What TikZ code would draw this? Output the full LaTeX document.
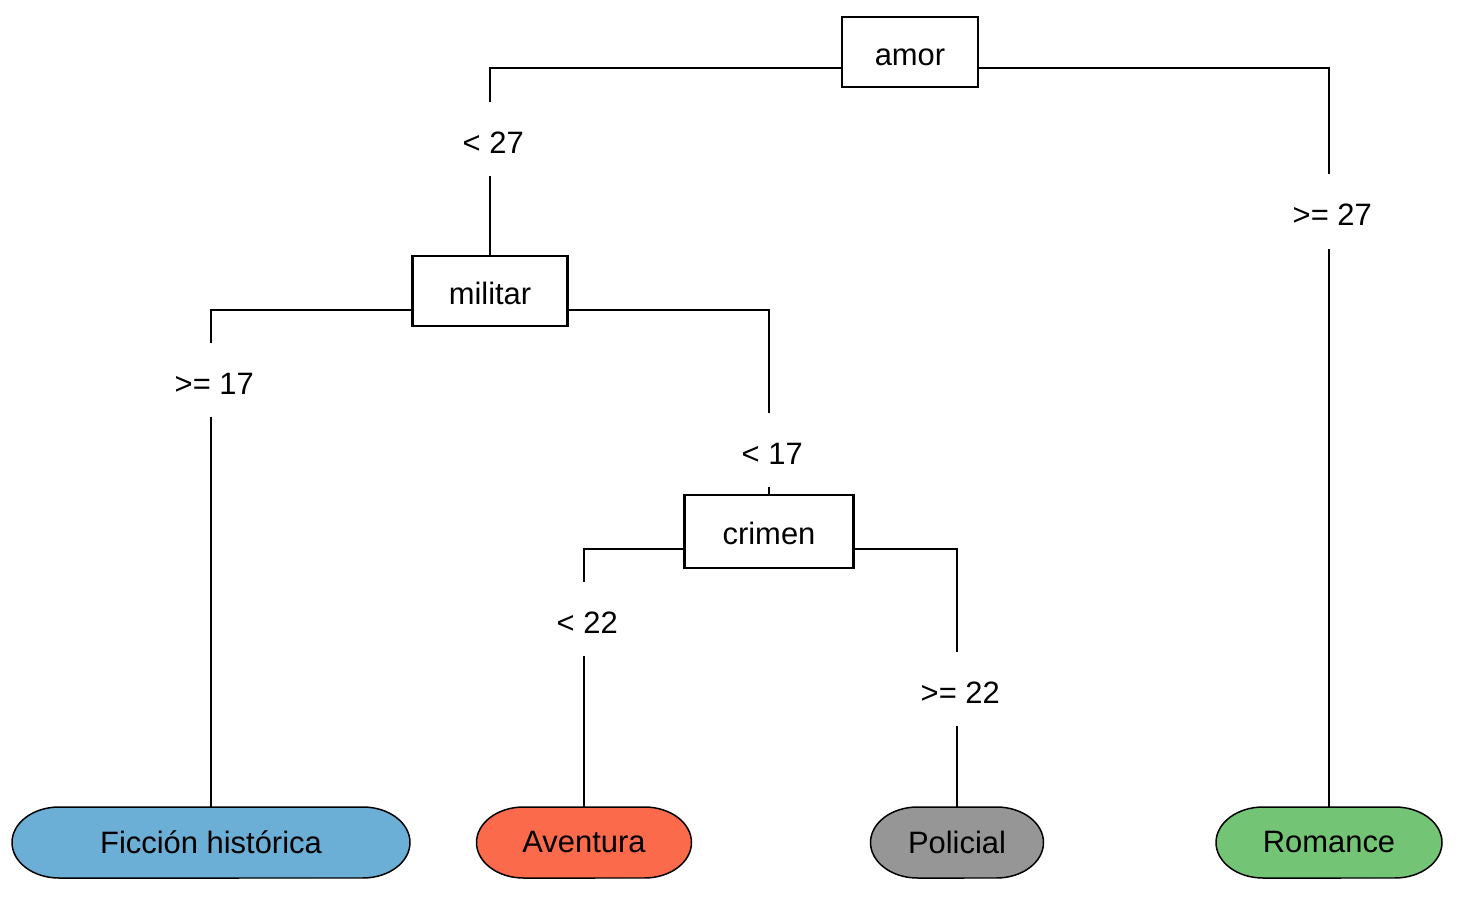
\documentclass[tikz,border=0pt]{standalone}
\usepackage{fontspec}
\setmainfont{Liberation Sans}
\definecolor{leafblue}{HTML}{6BAED6}
\definecolor{leafred}{HTML}{FB6A4A}
\definecolor{leafgray}{HTML}{969696}
\definecolor{leafgreen}{HTML}{74C476}
\tikzset{
  splitbox/.style={draw, line width=1.4pt, fill=white, inner sep=0pt,
    text height=15pt, text depth=0pt,
    font=\fontsize{17.6}{20}\selectfont},
  cond/.style={inner sep=0pt, minimum height=1.48cm, text height=16.4pt, text depth=0pt,
    font=\fontsize{17.6}{20}\selectfont},
  conn/.style={line width=1.1pt},
  leafline/.style={line width=0.85pt},
  leaftext/.style={inner sep=0pt, minimum height=1.42cm,
    font=\fontsize{17.6}{20}\selectfont},
}
\newcommand\drawleaf[6]{%
  \begin{scope}[shift={(#2,#3)}]
    \filldraw[leafline, fill=#5] (-#4+47,35.5) -- (#4-47,35.5)
      arc[start angle=90,end angle=-90,x radius=0.94cm,y radius=0.71cm]
      -- (-#4+47,-35.5)
      arc[start angle=270,end angle=90,x radius=0.94cm,y radius=0.71cm] -- cycle;
  \end{scope}
  \node[leaftext, minimum width=#4*0.04cm] (#1) at (#2,#3) {#6};
}
\newcommand\sh{\hspace{0.13cm}}
\begin{document}
\begin{tikzpicture}[x=0.02cm,y=0.02cm]
\useasboundingbox (0,0) rectangle (1462,-905);

% split nodes
\node[splitbox, minimum width=2.72cm, minimum height=1.4cm] (amor) at (910,-52) {amor};
\node[splitbox, minimum width=3.1cm, minimum height=1.4cm] (militar) at (490,-291) {militar};
\node[splitbox, minimum width=3.38cm, minimum height=1.46cm] (crimen) at (769,-531.5) {crimen};

% leaves
\drawleaf{ficcion}{211}{-842.5}{199}{leafblue}{Ficción histórica}
\drawleaf{aventura}{584}{-842.5}{107.5}{leafred}{Aventura}
\drawleaf{policial}{957}{-842.5}{86.5}{leafgray}{Policial}
\drawleaf{romance}{1329}{-842.5}{113}{leafgreen}{Romance}

% condition labels
\node[cond] (l27) at (490,-139) {\sh< 27};
\node[cond] (g27) at (1329,-211.5) {\sh>= 27};
\node[cond] (g17) at (211,-380) {\sh>= 17};
\node[cond] (l17) at (769,-450) {\sh< 17};
\node[cond] (l22) at (584,-619) {\sh< 22};
\node[cond] (g22) at (957,-689) {\sh>= 22};

% connectors
\draw[conn] ([yshift=-0.32cm]amor.west) -| (l27.north);
\draw[conn] (l27.south) -- (militar.north);
\draw[conn] ([yshift=-0.32cm]amor.east) -| (g27.north);
\draw[conn] (g27.south) -- (romance.north);

\draw[conn] ([yshift=-0.38cm]militar.west) -| (g17.north);
\draw[conn] (g17.south) -- (ficcion.north);
\draw[conn] ([yshift=-0.38cm]militar.east) -| (l17.north);
\draw[conn] (l17.south) -- (crimen.north);

\draw[conn] ([yshift=-0.35cm]crimen.west) -| (l22.north);
\draw[conn] (l22.south) -- (aventura.north);
\draw[conn] ([yshift=-0.35cm]crimen.east) -| (g22.north);
\draw[conn] (g22.south) -- (policial.north);
\end{tikzpicture}
\end{document}
